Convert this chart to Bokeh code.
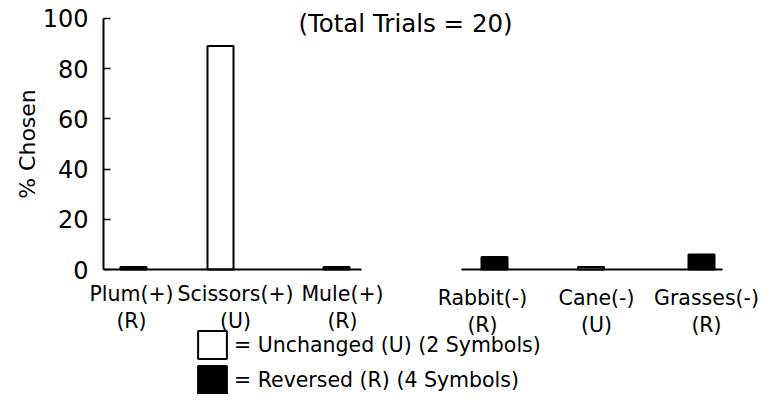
import math
from bokeh.plotting import figure
from bokeh.models import (Range1d, LinearAxis, FixedTicker, ColumnDataSource,
                          LabelSet, Label, Legend, LegendItem)
from bokeh.core.properties import value
from bokeh.transform import factor_cmap
from bokeh.embed import file_html
from bokeh.resources import INLINE

# ---- data ----
categories = ["Plum(+)", "Scissors(+)", "Mule(+)", "Rabbit(-)", "Cane(-)", "Grasses(-)"]
codes = ["R", "U", "R", "R", "U", "R"]
pct_chosen = [1, 89, 1, 5, 1, 6]
y_ticks = [0, 20, 40, 60, 80, 100]
title_text = "(Total Trials = 20)"
y_label = "% Chosen"
legend_labels = {"U": "= Unchanged (U) (2 Symbols)", "R": "= Reversed (R) (4 Symbols)"}

# ---- layout (x in pixels measured from the y axis) ----
panel = [0, 0, 0, 1, 1, 1]
bar_x = [30, 117, 233, 391, 487.5, 598]
label_x = [28, 132, 239, 379, 493, 603]
name_y = [-9.6, -11.2]      # per panel, in y units
code_y = [-20.7, -22.3]
panels_extent = [(0, 258), (358, 619)]
FONT = "DejaVu Sans"

p = figure(width=760, height=394, output_backend="svg", toolbar_location=None,
           x_axis_type=None, y_axis_type=None,
           x_range=Range1d(-103, 657), y_range=Range1d(-49.8, 107.17),
           min_border=0, outline_line_color=None,
           background_fill_color="white", border_fill_color="white")

yaxis = LinearAxis(ticker=FixedTicker(ticks=y_ticks), bounds=(0, 100), fixed_location=0)
yaxis.axis_line_width = 2
yaxis.major_tick_line_width = 1.5
yaxis.major_tick_in = 7
yaxis.major_tick_out = 0
yaxis.minor_tick_line_color = None
yaxis.major_label_standoff = 15
yaxis.major_label_text_font = FONT
yaxis.major_label_text_font_size = "24px"
yaxis.major_label_text_color = "black"
p.add_layout(yaxis, "left")

p.add_layout(Label(x=-76, y=50, text=y_label, angle=math.pi / 2,
                   text_align="center", text_baseline="middle",
                   text_font=FONT, text_font_size="22px", text_color="black"))

src = ColumnDataSource(dict(x=bar_x, pct=pct_chosen, code=codes, cat=categories))
bars = p.vbar(x="x", top="pct", bottom=0, width=26, source=src,
              fill_color=factor_cmap("code", ["white", "black"], ["U", "R"]),
              line_color="black", line_width=2)

# baselines of the two panels
p.segment(x0=[e[0] for e in panels_extent], x1=[e[1] for e in panels_extent],
          y0=[0, 0], y1=[0, 0], line_color="black", line_width=2)

lab_src = ColumnDataSource(dict(
    x=label_x,
    yn=[name_y[k] for k in panel],
    yc=[code_y[k] for k in panel],
    name=categories,
    code=["(%s)" % c for c in codes]))
for ycol, tcol in (("yn", "name"), ("yc", "code")):
    p.add_layout(LabelSet(x="x", y=ycol, text=tcol, source=lab_src,
                          text_align="center", text_baseline="middle",
                          text_font=value(FONT), text_font_size=value("20.5px"),
                          text_color="black"))

p.add_layout(Label(x=302, y=98, text=title_text, text_align="center",
                   text_baseline="middle", text_font=FONT, text_font_size="24.5px",
                   text_color="black"))

legend = Legend(items=[LegendItem(label=legend_labels["U"], renderers=[bars], index=1),
                       LegendItem(label=legend_labels["R"], renderers=[bars], index=0)],
                location=(194, -3), orientation="vertical",
                glyph_width=36, glyph_height=35, spacing=0, padding=0, margin=0,
                label_standoff=4, border_line_color=None, background_fill_alpha=0,
                label_text_font=FONT, label_text_font_size="20.5px",
                label_text_color="black")
p.add_layout(legend)

open("out.html", "w").write(file_html(p, INLINE))
